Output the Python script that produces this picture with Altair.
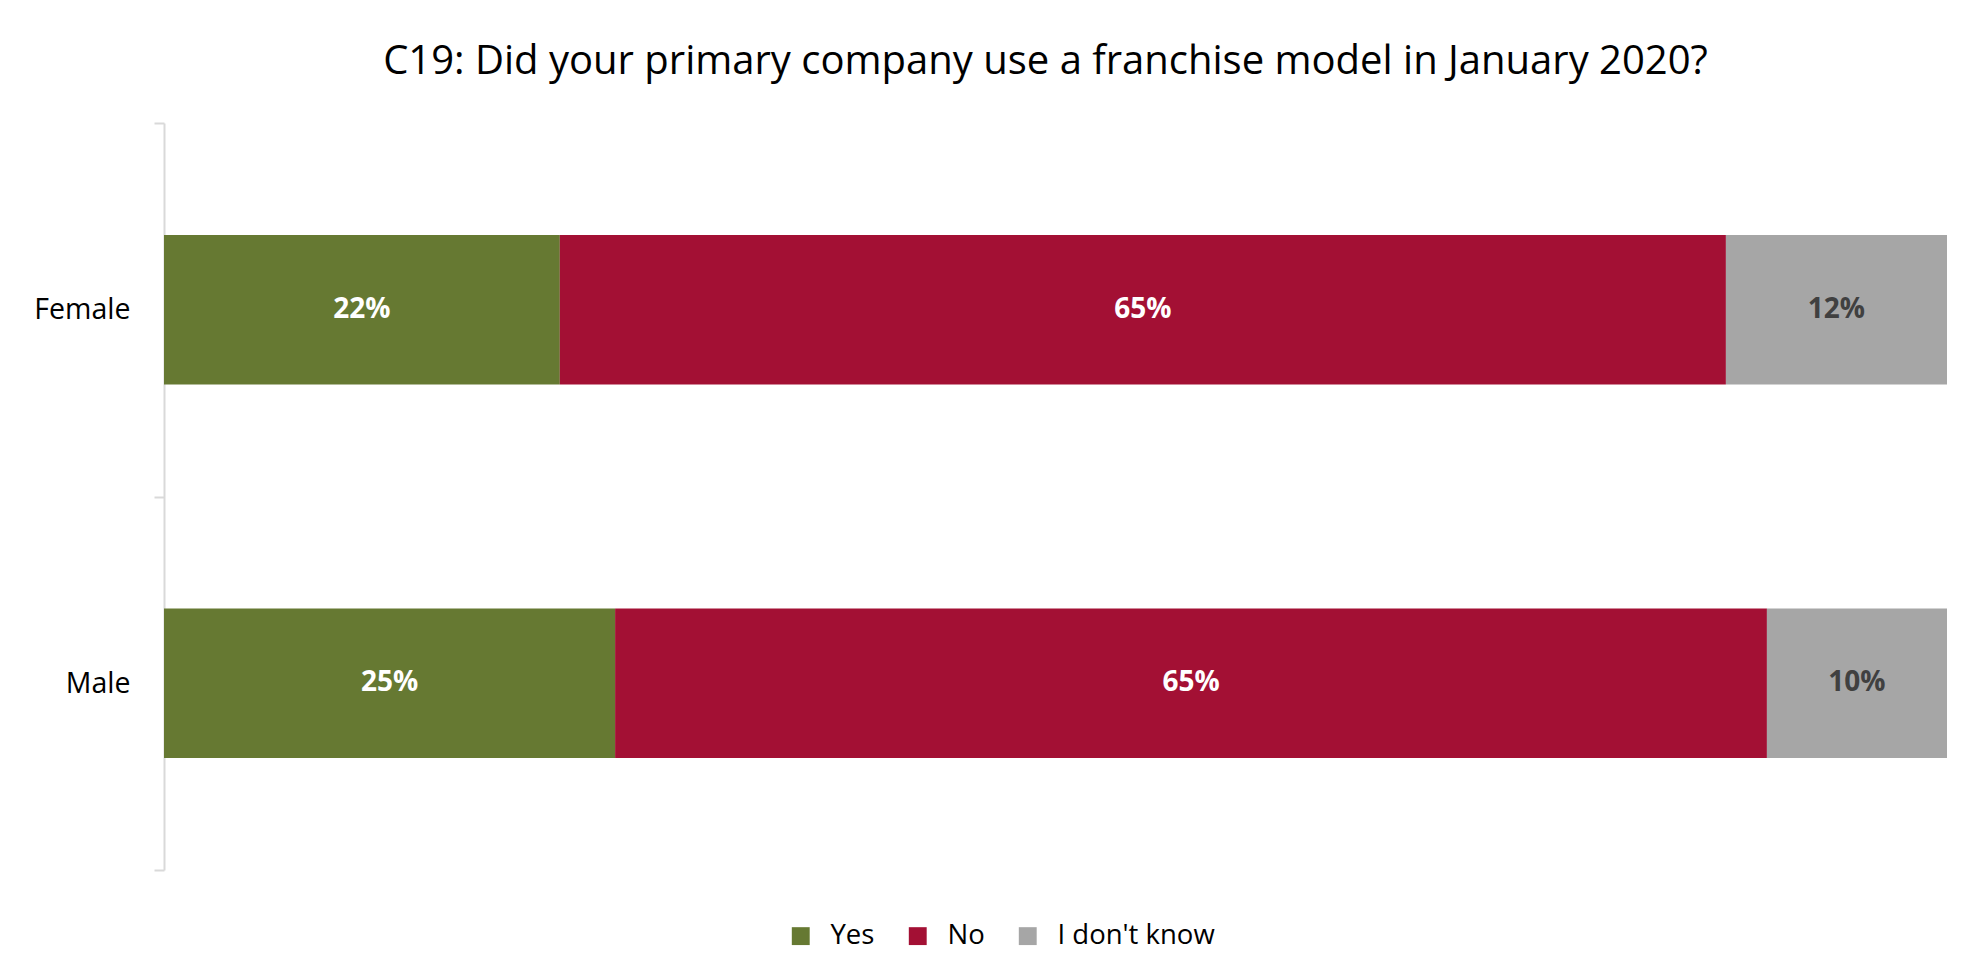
import altair as alt
import pandas as pd

categories = ["Female", "Male"]
responses = ["Yes", "No", "I don't know"]
female_values = [22.2, 65.4, 12.4]
male_values = [25.3, 64.6, 10.1]
colors = ["#667932", "#A31034", "#A6A6A6"]

rows = []
for cat, vals in zip(categories, [female_values, male_values]):
    for i, (r, v) in enumerate(zip(responses, vals)):
        rows.append({"group": cat, "response": r, "value": v, "order": i})
df = pd.DataFrame(rows)

FONT = "Open Sans"

base = alt.Chart(df).transform_stack(
    stack="value", groupby=["group"], as_=["x0", "x1"],
    sort=[alt.SortField("order", order="ascending")]
).transform_calculate(
    mid="(datum.x0 + datum.x1) / 2",
    label="round(datum.value) + '%'"
)

y_enc = alt.Y(
    "group:N", sort=categories, title=None,
    scale=alt.Scale(paddingInner=0, paddingOuter=0),
    axis=alt.Axis(
        domainColor="#d9d9d9", domainWidth=2, tickColor="#d9d9d9", tickWidth=2,
        tickSize=10, tickBand="extent", labelFont=FONT, labelFontSize=28.5,
        labelColor="#000000", labelPadding=24,
    ),
)

bars = base.mark_bar(height={"band": 0.4}).encode(
    x=alt.X("x0:Q", scale=alt.Scale(domain=[0, 100]), axis=None),
    x2="x1:Q",
    y=y_enc,
    color=alt.Color(
        "response:N",
        scale=alt.Scale(domain=responses, range=colors),
        sort=responses,
        legend=alt.Legend(
            title=None, orient="none", direction="horizontal",
            legendX=623, legendY=799, symbolType="square", symbolSize=320,
            symbolStrokeWidth=0, labelFont=FONT, labelFontSize=27.5,
            labelColor="#000000", labelOffset=16, columnPadding=29,
            labelLimit=400,
        ),
    ),
)

text = base.mark_text(font=FONT, fontSize=28, fontWeight="bold").encode(
    x=alt.X("mid:Q", scale=alt.Scale(domain=[0, 100])),
    y=alt.Y("group:N", sort=categories),
    text="label:N",
    color=alt.condition(
        alt.datum.response == "I don't know", alt.value("#404040"), alt.value("#ffffff")
    ),
)

chart = alt.layer(bars, text).properties(
    width=1783,
    height=747,
    autosize="none",
    padding={"left": 156, "top": 115, "right": 17, "bottom": 100},
    title=alt.TitleParams(
        "C19: Did your primary company use a franchise model in January 2020?",
        font=FONT, fontSize=40, fontWeight="normal", color="#000000",
        anchor="middle", offset=27, dx=-10,
    ),
).configure_view(stroke=None)

chart.save("out.html", embed_options={"renderer": "svg", "actions": False})
